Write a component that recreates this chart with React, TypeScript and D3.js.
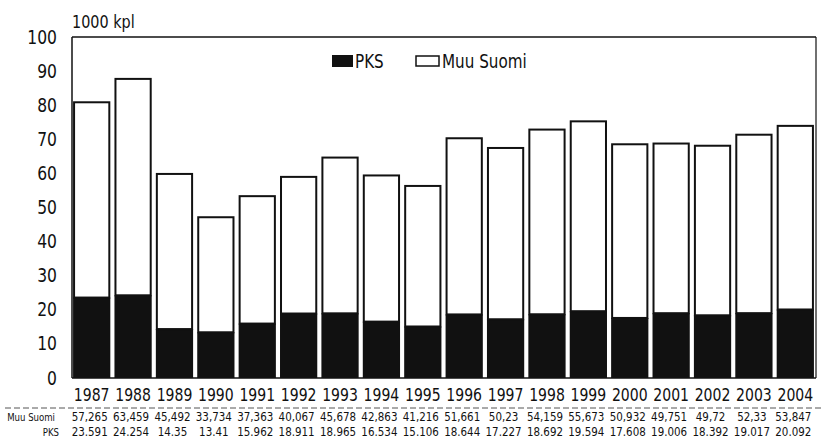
import { scaleBand, scaleLinear, range as d3range } from "d3";
import type { ReactNode } from "react";

const years = ["1987","1988","1989","1990","1991","1992","1993","1994","1995","1996","1997","1998","1999","2000","2001","2002","2003","2004"];
const muuSuomi = [57.265,63.459,45.492,33.734,37.363,40.067,45.678,42.863,41.216,51.661,50.23,54.159,55.673,50.932,49.751,49.72,52.33,53.847];
const pks = [23.591,24.254,14.35,13.41,15.962,18.911,18.965,16.534,15.106,18.644,17.227,18.692,19.594,17.608,19.006,18.392,19.017,20.092];
const yTicks = d3range(0, 101, 10);

const W = 822, H = 444;
const FONT = "'DejaVu Sans', sans-serif";
const INK = "#111";

// condensed text: squeeze horizontally, the original uses a narrow face
function T({ x, y, size, sx = 0.78, anchor = "start", children }:
  { x: number; y: number; size: number; sx?: number; anchor?: "start" | "middle" | "end"; children: ReactNode }) {
  return (
    <text transform={`translate(${x},${y}) scale(${sx},1)`} textAnchor={anchor}
      dominantBaseline="central" fontSize={size} fill={INK}>{children}</text>
  );
}

export default function App() {
  const x = scaleBand().domain(years).range([71, 816]).paddingInner(0.1).paddingOuter(0.05);
  const y = scaleLinear().domain([0, 100]).range([378, 37]);
  const bw = x.bandwidth();
  return (
    <svg width={W} height={H} style={{ position: "absolute", left: 0, top: 0, background: "#fff" }} fontFamily={FONT}>
      <T x={72} y={22} size={18} sx={0.8}>1000 kpl</T>
      {/* frame */}
      <line x1={72} x2={72} y1={y(100)} y2={y(0)} stroke={INK} strokeWidth={1.5}/>
      <line x1={72} x2={816} y1={y(100)} y2={y(100)} stroke={INK} strokeWidth={1.5}/>
      <line x1={816} x2={816} y1={y(100)} y2={y(0)} stroke={INK} strokeWidth={1.2}/>
      <line x1={72} x2={816} y1={y(0)} y2={y(0)} stroke={INK} strokeWidth={1.5}/>
      {yTicks.map(t => (
        <T key={t} x={57} y={y(t)} size={19} sx={0.82} anchor="end">{t}</T>
      ))}
      {years.map((yr, i) => {
        const x0 = x(yr)!;
        const top = pks[i] + muuSuomi[i];
        return (
          <g key={yr}>
            <rect x={x0} y={y(pks[i])} width={bw} height={y(0) - y(pks[i])} fill={INK}/>
            <rect x={x0 + 1} y={y(top)} width={bw - 2} height={y(pks[i]) - y(top)} fill="#fff" stroke={INK} strokeWidth={2}/>
            <T x={x0 + bw / 2} y={395} size={18} anchor="middle">{yr}</T>
            <T x={x0 + bw / 2 - 2} y={417} size={12} sx={0.86} anchor="middle">{String(muuSuomi[i]).replace(".", ",")}</T>
            <T x={x0 + bw / 2 - 2} y={432} size={12} sx={0.86} anchor="middle">{String(pks[i])}</T>
          </g>
        );
      })}
      <line x1={5} x2={822} y1={408} y2={408} stroke="#555" strokeWidth={1} strokeDasharray="6 3"/>
      <T x={55} y={417} size={11} anchor="end">Muu Suomi</T>
      <T x={59} y={432} size={11} anchor="end">PKS</T>
      {/* legend */}
      <rect x={332} y={55} width={21} height={12} fill={INK}/>
      <T x={355} y={61} size={20} sx={0.76}>PKS</T>
      <rect x={416} y={56} width={23} height={10} fill="#fff" stroke={INK} strokeWidth={1.5}/>
      <T x={442} y={61} size={20} sx={0.76}>Muu Suomi</T>
    </svg>
  );
}
